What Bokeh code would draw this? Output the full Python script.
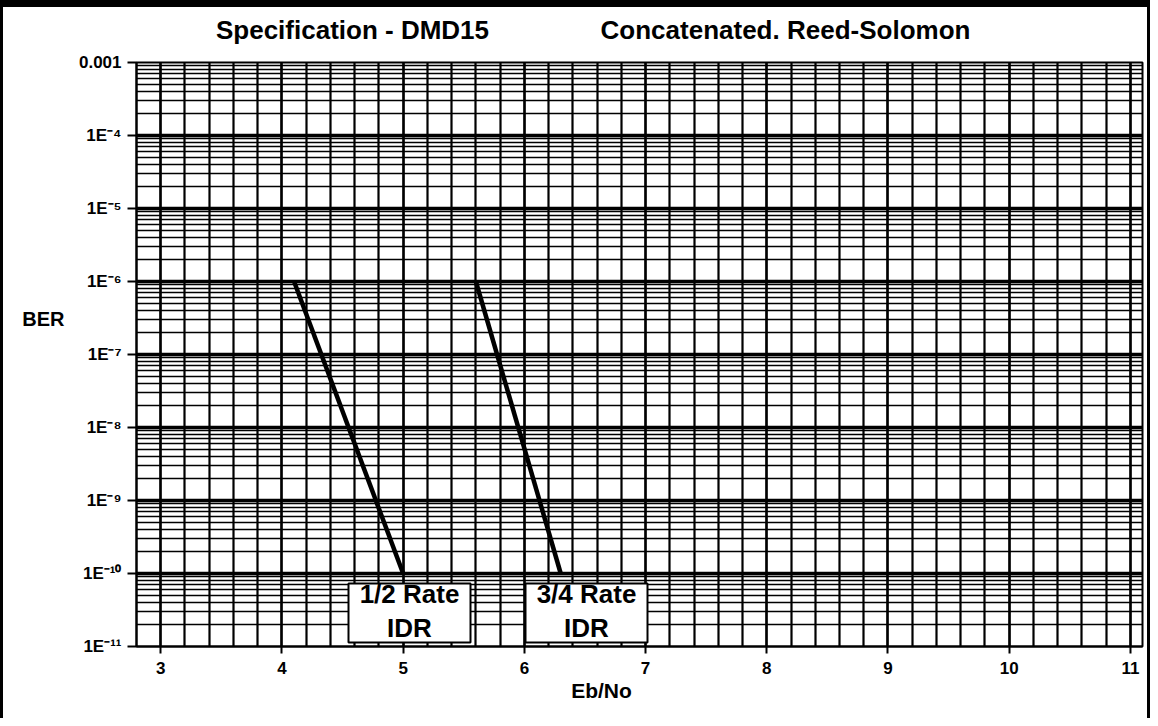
import numpy as np
from bokeh.plotting import figure
from bokeh.models import (Range1d, FixedTicker, CustomJSTickFormatter, Label,
                          LinearAxis, LogAxis)
from bokeh.embed import file_html
from bokeh.resources import INLINE

# ---------------- data ----------------
half_rate_ebno = [4.1, 5.0]
half_rate_ber = [1e-6, 1e-10]
three_q_rate_ebno = [5.6, 6.3]
three_q_rate_ber = [1e-6, 1e-10]
series_line1 = ["1/2 Rate", "3/4 Rate"]
series_line2 = ["IDR", "IDR"]
x_ticks = [3, 4, 5, 6, 7, 8, 9, 10, 11]
y_tick_exps = [-3, -4, -5, -6, -7, -8, -9, -10, -11]
y_tick_labels = ["0.001", "1E\u207b\u2074", "1E\u207b\u2075", "1E\u207b\u2076", "1E\u207b\u2077",
                 "1E\u207b\u2078", "1E\u207b\u2079", "1E\u207b\u00b9\u2070", "1E\u207b\u00b9\u00b9"]
title_texts = ["Specification - DMD15", "Concatenated. Reed-Solomon"]
x_label = "Eb/No"
y_label = "BER"

# ---------------- layout (page pixels) ----------------
OX, OY = 3, 7                     # css border widths (left, top)
W, H = 1150, 718                  # element / canvas size
PL, PR, PT, PB = 136, 1142, 62, 646   # frame edges on the page
X0, X1 = 2.8, 11.1
E0, E1 = -11, -3
FONT = "Liberation Sans"


def fx(px):
    return X0 + (px - PL) / (PR - PL) * (X1 - X0)


def fy(py):
    return 10 ** (E1 - (py - PT) / (PB - PT) * (E1 - E0))


p = figure(width=W, height=H, output_backend="svg", toolbar_location=None,
           y_axis_type="log", x_range=Range1d(X0, X1), y_range=Range1d(10 ** E0, 10 ** E1),
           min_border_left=PL - OX, min_border_right=W - (PR - OX), min_border_top=PT - OY,
           min_border_bottom=H - (PB - OY))
p.styles = {"border-top": "7px solid black", "border-left": "3px solid black",
            "border-right": "3px solid black"}
p.background_fill_color = "white"
p.border_fill_color = "white"
p.outline_line_color = "black"
p.outline_line_width = 2

# grids (log paper)
decades = [10.0 ** e for e in range(E0, E1 + 1)]
minors = [k * 10.0 ** e for e in range(E0, E1) for k in range(2, 10)]
p.ygrid.ticker = FixedTicker(ticks=decades, minor_ticks=minors)
p.ygrid.grid_line_color = "black"
p.ygrid.grid_line_width = 3.5
p.ygrid.minor_grid_line_color = "black"
p.ygrid.minor_grid_line_width = 1.5

xminor = [round(v, 1) for v in np.arange(2.8, 11.05, 0.2)]
p.xgrid.ticker = FixedTicker(ticks=x_ticks, minor_ticks=xminor)
p.xgrid.grid_line_color = "black"
p.xgrid.grid_line_width = 2.2
p.xgrid.minor_grid_line_color = "black"
p.xgrid.minor_grid_line_width = 2.2

# main axes
p.xaxis.ticker = FixedTicker(ticks=x_ticks)
p.yaxis.ticker = FixedTicker(ticks=[10.0 ** e for e in y_tick_exps])
p.yaxis.formatter = CustomJSTickFormatter(
    args=dict(labels=dict(zip([str(e) for e in y_tick_exps], y_tick_labels))),
    code="const k = Math.round(Math.log10(tick)); const s = labels[String(k)]; return s === undefined ? '' : s;")
for ax in (p.xaxis, p.yaxis):
    ax.axis_line_color = "black"
    ax.axis_line_width = 2
    ax.major_tick_line_color = "black"
    ax.major_tick_line_width = 2
    ax.minor_tick_line_color = None
    ax.major_label_text_font = FONT
    ax.major_label_text_font_style = "bold"
    ax.major_label_text_font_size = "17px"
    ax.major_label_text_color = "black"
p.xaxis.major_tick_out = 7
p.xaxis.major_tick_in = 0
p.xaxis.major_label_standoff = 8
p.yaxis.major_tick_out = 9
p.yaxis.major_tick_in = 0
p.yaxis.major_label_standoff = 6


def text_axis(cls, ticks, labels, size, standoff):
    ax = cls(ticker=FixedTicker(ticks=ticks),
             formatter=CustomJSTickFormatter(args=dict(labels=labels), code="return labels[index];"))
    ax.axis_line_color = None
    ax.major_tick_line_color = None
    ax.minor_tick_line_color = None
    ax.major_label_text_font = FONT
    ax.major_label_text_font_style = "bold"
    ax.major_label_text_font_size = size
    ax.major_label_text_color = "black"
    ax.major_label_standoff = standoff
    return ax


# titles, axis names (as label-only axes so they sit outside the frame)
p.add_layout(text_axis(LinearAxis, [fx(352), fx(785)], title_texts, "26px", 12), "above")
p.add_layout(text_axis(LinearAxis, [fx(601)], [x_label], "21px", -4), "below")
p.add_layout(text_axis(LogAxis, [fy(318)], [y_label], "20px", 5), "left")

# curves
p.line(half_rate_ebno, half_rate_ber, line_color="black", line_width=4.5)
p.line(three_q_rate_ebno, three_q_rate_ber, line_color="black", line_width=4.5)

# label boxes
boxes = [(348, 470), (525, 647)]
for (bl, br), t1, t2 in zip(boxes, series_line1, series_line2):
    p.quad(left=[fx(bl)], right=[fx(br)], top=[fy(583)], bottom=[fy(642)],
           fill_color="white", line_color="black", line_width=2)
    cx = (bl + br) / 2
    p.add_layout(Label(x=fx(cx), y=fy(593), text=t1, text_align="center", text_baseline="middle",
                       text_font=FONT, text_font_style="bold", text_font_size="26px", text_color="black"))
    p.add_layout(Label(x=fx(cx), y=fy(627), text=t2, text_align="center", text_baseline="middle",
                       text_font=FONT, text_font_style="bold", text_font_size="26px", text_color="black"))

open("out.html", "w").write(file_html(p, INLINE))
